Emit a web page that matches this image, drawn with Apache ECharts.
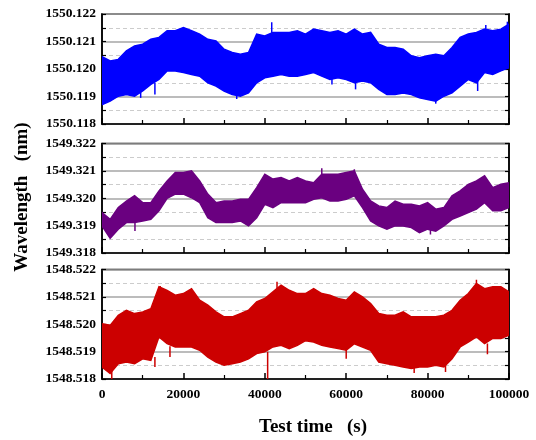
<!DOCTYPE html>
<html>
<head>
<meta charset="utf-8">
<title>Wavelength vs test time</title>
<script src="https://cdn.jsdelivr.net/npm/echarts@6/dist/echarts.min.js"></script>
<style>
  html, body { margin: 0; padding: 0; background: #fff; }
  #chart { width: 536px; height: 440px; }
</style>
</head>
<body>
<div id="chart"></div>
<script>
// sample times (s)
var times = [0, 2000, 4000, 6000, 8000, 10000, 12000, 14000, 16000, 18000, 20000, 22000, 24000,
  26000, 28000, 30000, 32000, 34000, 36000, 38000, 40000, 42000, 44000, 46000, 48000, 50000,
  52000, 54000, 56000, 58000, 60000, 62000, 64000, 66000, 68000, 70000, 72000, 74000, 76000,
  78000, 80000, 82000, 84000, 86000, 88000, 90000, 92000, 94000, 96000, 98000, 100000];

// base wavelength of each panel (nm); values below are pm above base
var bases = [1550.118, 1549.318, 1548.518];
var colors = ['#0000FF', '#6A0080', '#CC0000'];

// upper / lower envelope of the noise band (pm above base)
var hi1 = [2.45, 2.29, 2.35, 2.66, 2.84, 2.9, 3.08, 3.15, 3.39, 3.39, 3.51, 3.39, 3.27, 3.08, 3.02, 2.72, 2.6,
  2.54, 2.6, 3.27, 3.2, 3.33, 3.33, 3.33, 3.39, 3.27, 3.45, 3.39, 3.33, 3.39, 3.27, 3.45, 3.27, 3.33, 2.9,
  2.78, 2.78, 2.72, 2.48, 2.41, 2.48, 2.54, 2.48, 2.78, 3.15, 3.27, 3.33, 3.45, 3.39, 3.45, 3.63];
var lo1 = [0.7, 0.83, 1.01, 1.07, 1.01, 1.2, 1.44, 1.62, 1.93, 1.93, 1.87, 1.8, 1.74, 1.5, 1.38, 1.2, 1.07,
  1.01, 1.13, 1.5, 1.68, 1.74, 1.8, 1.74, 1.74, 1.8, 1.87, 1.74, 1.62, 1.68, 1.62, 1.5, 1.56, 1.5, 1.26,
  1.07, 1.07, 1.13, 1.07, 0.95, 0.89, 0.83, 1.01, 1.13, 1.38, 1.62, 1.5, 1.87, 1.8, 1.93, 2.05];

var hi2 = [1.48, 1.23, 1.66, 1.9, 2.09, 1.84, 1.84, 2.27, 2.63, 2.94, 2.94, 3.0, 2.63, 2.15, 1.84, 1.9, 1.9,
  1.96, 1.96, 2.39, 2.88, 2.7, 2.76, 2.63, 2.76, 2.63, 2.57, 2.88, 2.88, 2.88, 2.94, 3.0, 2.33, 1.9, 1.72,
  1.66, 1.9, 1.78, 1.78, 1.72, 1.84, 1.6, 1.66, 2.09, 2.27, 2.51, 2.63, 2.82, 2.39, 2.51, 2.57];
var lo2 = [0.99, 0.54, 0.87, 1.11, 1.11, 1.17, 1.23, 1.54, 2.0, 2.15, 2.15, 2.02, 1.84, 1.29, 1.11, 1.11, 1.11,
  1.17, 0.99, 1.29, 1.78, 1.66, 1.84, 1.84, 1.84, 1.84, 1.96, 2.02, 1.9, 1.9, 1.96, 2.09, 1.66, 1.17, 0.99,
  0.87, 0.99, 0.99, 0.93, 0.74, 0.87, 0.8, 0.99, 1.23, 1.35, 1.48, 1.6, 1.84, 1.54, 1.54, 1.66];

var hi3 = [2.02, 1.96, 2.33, 2.51, 2.39, 2.45, 2.57, 3.37, 3.24, 3.06, 3.12, 3.3, 2.88, 2.7, 2.45, 2.27, 2.27,
  2.39, 2.51, 2.82, 2.94, 3.18, 3.43, 3.24, 3.12, 3.12, 3.3, 3.12, 3.06, 2.94, 2.88, 3.18, 3.0, 2.76, 2.39,
  2.33, 2.33, 2.45, 2.27, 2.27, 2.27, 2.27, 2.33, 2.51, 2.88, 3.12, 3.49, 3.3, 3.37, 3.37, 3.18];
var lo3 = [0.44, 0.2, 0.56, 0.62, 0.56, 0.74, 0.68, 1.54, 1.29, 1.17, 1.17, 1.17, 1.05, 0.8, 0.62, 0.5, 0.56,
  0.62, 0.74, 0.93, 0.99, 1.17, 1.23, 1.11, 1.23, 1.4, 1.35, 1.23, 1.17, 1.11, 1.05, 1.29, 1.17, 1.05, 0.62,
  0.56, 0.5, 0.44, 0.38, 0.44, 0.44, 0.5, 0.44, 0.74, 1.17, 1.35, 1.54, 1.29, 1.48, 1.48, 1.6];

// isolated spikes: [time, from, to] (pm above base)
var spikes1 = [[9500, 1.2, 0.95], [13000, 1.5, 1.07], [33100, 1.1, 0.91], [41700, 3.3, 3.7], [56500, 1.7, 1.44],
  [62300, 1.5, 1.26], [82000, 0.9, 0.74], [92300, 1.6, 1.2], [94300, 3.4, 3.6], [99600, 3.5, 3.72]];
var spikes2 = [[8100, 1.2, 0.8], [54000, 2.8, 3.1], [62000, 2.9, 3.06], [80700, 0.9, 0.68]];
var spikes3 = [[2400, 0.3, 0.0], [13000, 0.8, 0.44], [14300, 3.2, 3.4], [16700, 1.2, 0.8], [40700, 1.0, 0.0],
  [43000, 3.3, 3.55], [60000, 1.1, 0.74], [76700, 0.45, 0.22], [84400, 0.5, 0.26], [92000, 3.4, 3.63],
  [94700, 1.3, 0.9]];

var xTicks = [0, 20000, 40000, 60000, 80000, 100000];

var his = [hi1, hi2, hi3], los = [lo1, lo2, lo3], spikesAll = [spikes1, spikes2, spikes3];
var gridTops = [14, 143.5, 269.5];
var gridH = [110, 109.5, 109.5];
var font = 'Liberation Serif';

var grids = [], xAxes = [], yAxes = [], series = [];

// band polygon: drawn once (on item 0) from the hi edge forward and the lo edge back
function bandRenderer(color, data) {
  return function (params, api) {
    if (params.dataIndex !== 0) return null;
    var pts = [];
    for (var i = 0; i < data.length; i++) pts.push(api.coord([data[i][0], data[i][2]]));
    for (var j = data.length - 1; j >= 0; j--) pts.push(api.coord([data[j][0], data[j][1]]));
    return { type: 'polygon', shape: { points: pts },
      style: { fill: color, stroke: color, lineWidth: 1.5, lineJoin: 'miter' } };
  };
}

for (var p = 0; p < 3; p++) {
  grids.push({ left: 102, width: 407, top: gridTops[p], height: gridH[p], show: true,
    borderColor: '#000', borderWidth: 1.5, backgroundColor: 'transparent' });

  xAxes.push({
    gridIndex: p, type: 'value', min: 0, max: 100000, interval: 20000,
    axisLine: { show: true, lineStyle: { color: '#000', width: 1.5 } },
    axisTick: { show: true, inside: true, length: 6, lineStyle: { color: '#000', width: 1.5 } },
    minorTick: { show: true, splitNumber: 2, length: 4, lineStyle: { color: '#000', width: 1.2 } },
    splitLine: { show: false },
    axisLabel: { show: p == 2, color: '#000', fontFamily: font, fontWeight: 'bold', fontSize: 13.5, margin: 9,
      formatter: function (v) { return xTicks.indexOf(v) >= 0 ? String(v) : ''; } }
  });

  (function (base) {
    // left axis with labels and grid lines
    yAxes.push({
      gridIndex: p, type: 'value', min: 0, max: 4, interval: 1, position: 'left',
      axisLine: { show: true, lineStyle: { color: '#000', width: 1.5 } },
      axisTick: { show: true, inside: true, length: 4, lineStyle: { color: '#000', width: 1.2 } },
      minorTick: { show: true, splitNumber: 2, length: 4, lineStyle: { color: '#000', width: 1.2 } },
      splitLine: { show: true, lineStyle: { color: '#A6A6A6', width: 1.5 } },
      minorSplitLine: { show: true, lineStyle: { color: '#CCCCCC', width: 1, type: [4, 3] } },
      axisLabel: { color: '#000', fontFamily: font, fontWeight: 'bold', fontSize: 13.5, margin: 6,
        formatter: function (v) { return ((Math.round(base * 1000) + v) / 1000).toFixed(3); } }
    });
  })(bases[p]);

  // right axis: ticks only
  yAxes.push({
    gridIndex: p, type: 'value', min: 0, max: 4, interval: 0.5, position: 'right',
    axisLine: { show: true, lineStyle: { color: '#000', width: 1.5 } },
    axisTick: { show: true, inside: true, length: 4, lineStyle: { color: '#000', width: 1.2 } },
    splitLine: { show: false }, axisLabel: { show: false }
  });

  var band = [];
  for (var i = 0; i < times.length; i++) band.push([times[i], los[p][i], his[p][i]]);

  series.push({
    type: 'custom', xAxisIndex: p, yAxisIndex: p * 2, data: band, silent: true, clip: true,
    encode: { x: 0, y: [1, 2] },
    renderItem: bandRenderer(colors[p], band)
  });
  series.push({
    type: 'custom', xAxisIndex: p, yAxisIndex: p * 2, data: spikesAll[p], silent: true, clip: true,
    encode: { x: 0, y: [1, 2] },
    renderItem: (function (c) {
      return function (params, api) {
        var a = api.coord([api.value(0), api.value(1)]);
        var b = api.coord([api.value(0), api.value(2)]);
        return { type: 'line', shape: { x1: a[0], y1: a[1], x2: b[0], y2: b[1] },
          style: { stroke: c, lineWidth: 1.5 } };
      };
    })(colors[p])
  });
}

var chart = echarts.init(document.getElementById('chart'), null, { renderer: 'canvas' });
chart.setOption({
  animation: false,
  backgroundColor: '#fff',
  grid: grids,
  xAxis: xAxes,
  yAxis: yAxes,
  series: series,
  graphic: [
    { type: 'text', x: 22, y: 197, rotation: Math.PI / 2, style: { text: 'Wavelength   (nm)',
      font: 'bold 19px "Liberation Serif"', fill: '#000', align: 'center', verticalAlign: 'middle' } },
    { type: 'text', x: 313, y: 427, style: { text: 'Test time   (s)',
      font: 'bold 19px "Liberation Serif"', fill: '#000', align: 'center', verticalAlign: 'middle' } }
  ]
});
</script>
</body>
</html>
